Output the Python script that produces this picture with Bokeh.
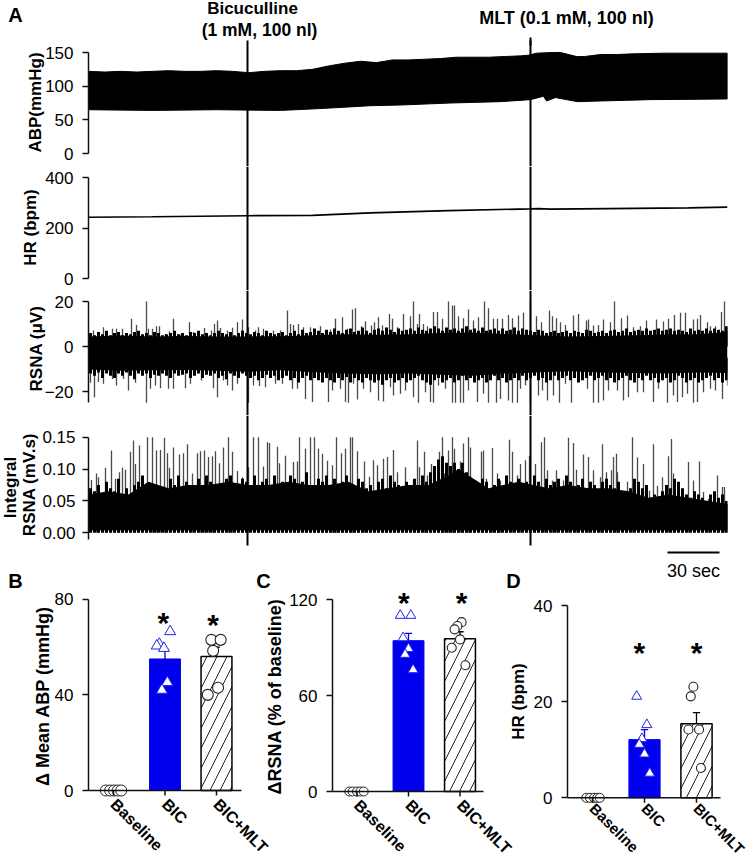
import math
from bokeh.plotting import figure
from bokeh.models import Range1d, FixedTicker
from bokeh.core.properties import value
from bokeh.embed import file_html
from bokeh.resources import INLINE

FONT = "Liberation Sans"

# ---------- panel A data (x = trace position, 52 units = 30 sec) ----------
abp_x = [0, 16, 32, 48, 64, 80, 96, 112, 128, 144, 160, 176, 192, 208, 224, 240, 256, 272, 288, 304, 320, 336, 352, 368, 384, 400, 416, 432, 440, 448, 464, 472, 488, 496, 512, 528, 544, 576, 608, 639]
abp_upper = [122, 121, 122, 121, 122, 123, 122, 122, 123, 122, 120, 122, 123, 123, 125, 130, 134, 137, 135, 139, 139, 140, 141, 143, 143, 143, 144, 145, 146, 149, 150, 150, 144, 144, 147, 147, 148, 149, 149, 149]
abp_low_x = [0, 64, 128, 192, 222, 247, 282, 312, 362, 412, 442, 455, 458, 460, 467, 489, 512, 562, 639]
abp_lower = [65, 64, 65, 64, 66, 68, 71, 72, 75, 77, 80, 85, 78, 79, 83, 77, 78, 80, 81]

hr_x = [0, 64, 159, 224, 282, 360, 442, 450, 462, 520, 600, 639]
hr_val = [244, 246, 250, 251, 261, 270, 277, 278, 276, 278, 281, 284]

rsna_env_x = [0, 32, 64, 96, 128, 160, 192, 224, 256, 288, 320, 352, 384, 416, 448, 480, 512, 544, 576, 608, 639]
rsna_top = [4.5, 4.9, 4.4, 4.7, 4.4, 4.5, 4.6, 5.0, 5.4, 5.2, 5.5, 6.0, 6.2, 5.6, 5.0, 4.5, 4.7, 5.0, 5.3, 5.4, 6.5]
rsna_bot = [-10.2, -10.8, -10.5, -10.4, -10.8, -11.2, -10.6, -11.4, -12.0, -12.3, -12.0, -12.6, -13.0, -12.0, -11.6, -11.0, -11.5, -11.8, -12.0, -11.5, -11.8]

rsna_mid_up = [6,5,6.5,5.5,7,5,6,6.5,5,6,5.5,6.5,7,5.5,6,5,6.5,6,5,5.5,
 6,7,5.5,6,5,6.5,6,7,5.5,6,5,6,7,6,5.5,6.5,5,6,7,6,
 5.5,6.5,6,5,7,6,5.5,6,6.5,5,6,7,5.5,7.5,6,6.5,8,7,6,7.5,
 6.5,8,7,6,7.5,8,6.5,7,8.5,7,6,7.5,8,7,8.5,7.5,6.5,8,7,7.5,
 8,7,8.5,7.5,7,8,9,8,7,8.5,7.5,8,7,8,9,7.5,8,7,8.5,7,
 7.5,8,7,8,7,7.5,8.5,7,8,7.5,7,6.5,7.5,7,6,6.5,7,6,6.5,7,
 6,7,6.5,6,7.5,7,6,6.5,7,6,7,7.5,6.5,7,8,6.5,7,7.5,7,8,
 7,7.5,8,7,7.5,8,7,7.5,7,6.5,8,7,7.5,7,8,7,8,7.5,7,9]
rsna_mid_dn = [-12,-13,-11.5,-14,-12,-13,-14,-12,-13,-11.5,-13,-14.5,-12,-13,-12,-14,-12.5,-13,-12,-13,
 -14,-12,-13,-12.5,-12,-14,-13,-12,-14,-12.5,-13,-12,-14,-13,-14.5,-12,-13,-14,-12,-13,
 -14,-13,-15,-14,-12.5,-14,-13,-15,-14,-13,-15,-14,-16,-14,-13,-15,-14,-15,-16,-14,
 -15,-16,-14,-15,-13.5,-16,-14,-15,-16,-14,-15,-16,-15,-17,-15,-14,-16,-15,-14,-16,
 -15,-14,-13,-15,-16,-17,-15,-14,-16,-15,-14,-16,-15,-13,-15,-14,-16,-15,-14,-16,
 -15,-13,-15,-14,-16,-15,-14,-15,-13,-15,-14,-13,-15,-14,-16,-15,-13,-15,-14,-13,
 -15,-14,-16,-15,-14,-13,-15,-14,-13,-15,-14,-16,-15,-14,-13,-15,-16,-14,-15,-13,
 -15,-14,-16,-15,-14,-16,-15,-13,-14,-16,-15,-14,-16,-15,-14,-13,-15,-14,-16,-15]

rsna_up_x = [5, 15, 24, 28, 34, 43, 48, 58, 60, 64, 68, 71, 77, 81, 85, 92, 101, 105, 110, 116, 123, 126, 129, 132, 139, 144, 149, 154, 160, 167, 170, 175, 185, 192, 199, 202, 205, 210, 215, 222, 232, 237, 242, 247, 254, 259, 264, 267, 273, 277, 283, 286, 290, 294, 301, 304, 309, 315, 322, 325, 329, 331, 335, 339, 345, 349, 354, 360, 364, 366, 370, 375, 380, 385, 390, 396, 400, 405, 409, 414, 420, 424, 430, 435, 442, 448, 453, 461, 464, 468, 472, 477, 485, 490, 498, 500, 505, 510, 515, 522, 526, 533, 539, 545, 552, 558, 568, 575, 580, 586, 592, 597, 605, 609, 612, 619, 622, 627, 633, 636, 639]
rsna_up = [7.1, 8.6, 7.9, 7.9, 7.9, 12.3, 9.6, 20, 7.9, 7.9, 9, 9, 5.6, 6.7, 12.3, 5.2, 10.8, 6.4, 6.7, 8.2, 7.1, 10, 11.6, 8.2, 7.1, 8.3, 10.8, 12, 8.6, 7.1, 8.6, 7.9, 7.1, 7.1, 16, 10, 9.6, 10, 8.6, 8.6, 9, 7.1, 7.6, 12.3, 13, 7.9, 16.5, 17, 9, 11.1, 9.3, 10.8, 13, 9.3, 14.5, 12.3, 8.6, 14.5, 13.5, 20, 10, 14.5, 10, 9, 15.3, 15.3, 12.3, 20, 18.2, 18.2, 13.5, 12.6, 16.5, 11.6, 13, 20, 17, 12.3, 12.3, 12.3, 14, 12.6, 13.8, 15, 20, 13.5, 10.8, 16, 13.5, 12.6, 10.8, 9.6, 13.8, 14.5, 11.6, 12, 9.3, 9.6, 12, 10.8, 20, 12.6, 13.8, 8.6, 9, 11.6, 12, 11.1, 12.3, 14, 15, 15, 12, 12.3, 14, 10.8, 9, 9, 15.3, 20, 9]
rsna_dn_x = [2, 6, 10, 15, 24, 28, 35, 40, 47, 58, 62, 67, 72, 80, 85, 97, 102, 113, 125, 129, 135, 139, 144, 149, 160, 165, 171, 177, 187, 194, 204, 209, 217, 224, 240, 244, 252, 257, 260, 265, 269, 275, 282, 290, 295, 302, 305, 312, 317, 325, 330, 337, 342, 345, 350, 357, 364, 367, 372, 375, 380, 389, 395, 400, 408, 412, 420, 424, 429, 432, 437, 442, 450, 454, 459, 465, 471, 477, 483, 490, 499, 505, 510, 515, 520, 529, 535, 540, 549, 555, 565, 570, 579, 585, 589, 594, 599, 605, 609, 615, 622, 627, 634, 639]
rsna_dn = [-16.1, -22.5, -15.8, -16.6, -14.4, -17.3, -14.4, -19.6, -16.1, -25, -18.8, -17.3, -18.5, -18.8, -18.8, -18.5, -16.6, -15.1, -18.5, -22.5, -15.1, -17.3, -19.6, -16.6, -25, -17.3, -17.6, -18.1, -16.6, -16.6, -18.8, -18.8, -23.3, -24.7, -24.7, -19.6, -18.8, -24.7, -25, -16.6, -23.6, -18.8, -20.3, -24, -24.4, -18.1, -21.8, -21, -19.6, -22.5, -25, -20.3, -24.7, -25, -17.3, -18.8, -25, -25, -25, -25, -19.6, -24.7, -21, -25, -25, -23.3, -24, -25, -25, -18.8, -17.3, -25, -21.8, -19.6, -24, -21.8, -25, -16.6, -25, -15.8, -18.8, -25, -25, -24, -19.6, -19.6, -24, -22.5, -20.3, -20.3, -24.7, -18.8, -25, -21.8, -24.7, -22.5, -21, -25, -24.7, -20.3, -18.8, -19.6, -23.3, -17.3]

int_env_x = [0, 20, 40, 60, 80, 100, 120, 140, 160, 180, 200, 220, 240, 260, 280, 300, 320, 340, 360, 370, 380, 400, 430, 460, 480, 500, 520, 540, 560, 580, 600, 620, 639]
int_top = [.06, .065, .06, .08, .07, .075, .075, .08, .075, .075, .08, .075, .075, .08, .065, .07, .075, .075, .09, .1, .09, .07, .08, .07, .075, .07, .07, .065, .055, .06, .055, .05, .045]
int_bot = [.004] * len(int_env_x)
int_mid = [.07,.065,.075,.06,.08,.07,.065,.085,.06,.07,.055,.075,.08,.09,.075,.07,.06,.045,.05,.07,
 .085,.075,.09,.07,.08,.065,.075,.085,.07,.09,.08,.065,.075,.07,.085,.09,.075,.07,.085,.08,
 .075,.09,.07,.08,.085,.07,.09,.075,.08,.07,.09,.085,.07,.08,.095,.075,.07,.085,.08,.09,
 .075,.085,.07,.08,.09,.075,.07,.085,.08,.07,.075,.065,.08,.085,.07,.09,.08,.075,.07,.08,
 .075,.085,.07,.09,.08,.095,.105,.115,.12,.11,.105,.11,.1,.11,.095,.085,.075,.07,.085,.08,
 .065,.075,.085,.07,.09,.08,.07,.085,.075,.08,.07,.09,.08,.07,.085,.075,.08,.085,.07,.09,
 .08,.07,.075,.085,.07,.08,.075,.065,.08,.085,.075,.07,.08,.065,.06,.07,.085,.08,.07,.075,
 .055,.06,.05,.065,.075,.07,.085,.08,.07,.06,.055,.065,.06,.055,.05,.06,.065,.055,.06,.05]
int_x = [3, 8, 10, 17, 23, 27, 31, 34, 37, 42, 45, 47, 51, 59, 64, 68, 72, 76, 79, 81, 85, 91, 95, 99, 104, 109, 112, 116, 120, 124, 127, 131, 135, 140, 144, 149, 154, 160, 165, 170, 175, 179, 181, 189, 191, 197, 205, 209, 211, 217, 222, 226, 230, 234, 239, 244, 248, 253, 257, 262, 264, 269, 276, 281, 285, 289, 295, 299, 305, 309, 317, 325, 329, 331, 336, 339, 343, 346, 351, 354, 356, 360, 364, 366, 372, 375, 380, 382, 386, 393, 395, 398, 404, 409, 412, 417, 421, 424, 429, 432, 437, 441, 447, 453, 456, 459, 464, 468, 475, 480, 485, 488, 495, 500, 505, 512, 514, 518, 523, 525, 528, 529, 539, 544, 549, 555, 561, 565, 569, 574, 580, 583, 585, 594, 600, 605, 611, 615, 620, 629, 634, 636, 639]
int_val = [.083, .093, .087, .102, .129, .085, .095, .102, .099, .127, .145, .108, .137, .15, .15, .129, .13, .149, .125, .102, .134, .123, .125, .139, .093, .125, .128, .129, .119, .12, .128, .109, .134, .15, .127, .097, .087, .103, .15, .15, .104, .142, .141, .135, .109, .121, .111, .112, .15, .132, .15, .15, .132, .124, .113, .106, .15, .125, .132, .15, .15, .128, .112, .088, .114, .106, .116, .119, .13, .095, .103, .082, .145, .103, .127, .09, .108, .087, .127, .15, .093, .129, .15, .132, .112, .14, .15, .134, .08, .127, .129, .085, .133, .093, .082, .074, .146, .127, .09, .108, .114, .12, .108, .142, .15, .098, .082, .098, .082, .149, .141, .099, .123, .119, .098, .087, .139, .095, .098, .119, .124, .095, .08, .15, .118, .108, .066, .139, .074, .087, .12, .147, .093, .061, .111, .082, .112, .064, .053, .09, .072, .072, .045]

bic_mark = 159
mlt_mark = 442
scale_bar = [579, 631]

# ---------- panels B, C, D data ----------
categories = ["Baseline", "BIC", "BIC+MLT"]
b_means = [55, 56]
b_err = [59, 60]
b_base_j = [-.15, -.065, .01, .08, .15]
b_bic_j = [.1, -.11, -.16, -.02, .045, -.06]
b_bic = [66.5, 61.2, 60.5, 59.5, 45.2, 42]
b_mlt_j = [-.1, .08, -.065, .03, -.17]
b_mlt = [63, 63, 58.4, 43, 40]
b_star_x = [.97, 1.935]
b_star_y = [70.2, 69.5]

c_means = [94.4, 95.6]
c_err = [99, 100]
c_base_j = [-.15, -.085, 0, .065, .13]
c_bic_j = [-.16, .045, -.105, 0, -.066, .09]
c_bic = [110.2, 110.2, 96.2, 89.4, 85.8, 76.2]
c_mlt_j = [.03, -.05, -.105, 0, -.16, .105]
c_mlt = [106, 103.6, 101.5, 95.2, 90, 79]
c_star_x = [.91, 2.03]
c_star_y = [118.6, 118.6]

d_means = [12.1, 15.4]
d_err = [14.2, 17.7]
d_base_j = [-.12, -.05, .03, .09, .14]
d_bic_j = [-.15, .045, -.05, -.1, 0, .1]
d_bic = [21.1, 15.2, 12.3, 11.1, 9.1, 5.1]
d_mlt_j = [-.06, -.11, -.155, .05, .085]
d_mlt = [23.1, 21.1, 14.2, 14.2, 6.2]
d_star_x = [.9, 2.0]
d_star_y = [30.3, 30.3]

# page annotations: text, x, y, size, style, angle
notes = [
    ("A", 15, 14, 20, "bold", 0), ("Bicuculline", 252, 8, 17, "bold", 0),
    ("(1 mM, 100 nl)", 259, 29, 17.5, "bold", 0), ("MLT (0.1 mM, 100 nl)", 566, 17, 18, "bold", 0),
    ("30 sec", 693, 570, 18, "normal", 0), ("B", 15, 580, 20, "bold", 0),
    ("C", 263, 580, 20, "bold", 0), ("D", 513, 580, 20, "bold", 0),
    ("ABP(mmHg)", 35, 102, 17, "bold", 90), ("HR (bpm)", 30, 227, 17, "bold", 90),
    ("RSNA (\u03bcV)", 36, 348, 17, "bold", 90), ("Integral", 10, 487, 17, "bold", 90),
    ("RSNA (mV.s)", 29, 484, 17, "bold", 90), ("\u0394 Mean ABP  (mmHg)", 42, 693, 18, "bold", 90),
    ("\u0394RSNA (% of baseline)", 274, 696, 18, "bold", 90), ("HR (bpm)", 518, 701, 17, "bold", 90),
]

BLUE = "#0000EE"
AXC = "#111111"
figs = []
rule_rows = []


def put(p, left, top):
    p.styles = {"position": "absolute", "left": f"{left}px", "top": f"{top}px"}
    figs.append(p)


def base_fig(left, top, width, height, fl, fr, ft, fb, xr, yr):
    p = figure(width=width, height=height, x_range=xr, y_range=yr, output_backend="svg",
               toolbar_location=None, min_border_left=fl - left, min_border_right=left + width - fr,
               min_border_top=ft - top, min_border_bottom=top + height - fb,
               background_fill_color=None, border_fill_color=None, outline_line_color=None)
    p.grid.visible = False
    return p


def style_y(ax, ticks, bounds, standoff=9, fmt=None):
    ax.ticker = FixedTicker(ticks=ticks)
    ax.bounds = bounds
    ax.axis_line_color = AXC
    ax.axis_line_width = 1.5
    ax.major_tick_line_color = AXC
    ax.major_tick_line_width = 1.5
    ax.major_tick_out = 6
    ax.major_tick_in = 0
    ax.minor_tick_line_color = None
    ax.major_label_text_font = FONT
    ax.major_label_text_font_size = "17px"
    ax.major_label_text_color = "black"
    ax.major_label_standoff = standoff
    if fmt:
        ax.major_label_overrides = fmt


def trace_fig(top, bottom, y0_px, k, ticks, bounds, standoff=9, fmt=None):
    """y0_px: page row of data 0; k: pixels per data unit."""
    yr = Range1d((y0_px - bottom) / k, (y0_px - top) / k)
    p = base_fig(0, top, 754, bottom - top, 88, 727, top, bottom, Range1d(0, 639), yr)
    p.xaxis.visible = False
    style_y(p.yaxis[0], ticks, bounds, standoff, fmt)
    put(p, 0, top)
    return p


def marks(p, y0_px, k, top, bottom):
    for m in (bic_mark, mlt_mark):
        p.segment(x0=[m], y0=[(y0_px - bottom) / k], x1=[m], y1=[(y0_px - top) / k], line_color="black", line_width=2)


SPIKE = "#4a4a4a"
MID_W = 3

# ABP
k = 101 / 150
pa = trace_fig(0, 166, 153, k, [0, 50, 100, 150], (0, 150))
pa.patch(x=abp_x + abp_low_x[::-1], y=abp_upper + abp_lower[::-1], fill_color="black", line_color="black")
marks(pa, 153, k, 40, 166)
pa.segment(x0=[mlt_mark], y0=[(153 - 45) / k], x1=[mlt_mark], y1=[(153 - 37) / k], line_color="black", line_width=2)

# HR
k = 101 / 400
ph = trace_fig(166, 290, 278.3, k, [0, 200, 400], (0, 400))
ph.line(x=hr_x, y=hr_val, line_color="black", line_width=1.6)
marks(ph, 278.3, k, 166, 290)

# RSNA
k = 2.25
pr = trace_fig(290, 415, 346, k, [-20, 0, 20], (-25, 20))
pr.segment(x0=rsna_up_x, y0=[0] * len(rsna_up_x), x1=rsna_up_x, y1=rsna_up, line_color=SPIKE, line_width=1.3)
pr.segment(x0=rsna_dn_x, y0=[-5] * len(rsna_dn_x), x1=rsna_dn_x, y1=rsna_dn, line_color=SPIKE, line_width=1.3)
mid_x = [2 + 4 * i for i in range(len(rsna_mid_up))]
pr.segment(x0=mid_x, y0=[0] * len(mid_x), x1=mid_x, y1=rsna_mid_up, line_color="black", line_width=MID_W)
pr.segment(x0=mid_x, y0=[-5] * len(mid_x), x1=mid_x, y1=rsna_mid_dn, line_color="black", line_width=MID_W)
pr.varea(x=rsna_env_x, y1=rsna_top, y2=rsna_bot, fill_color="black")
marks(pr, 346, k, 290, 415)

# Integral RSNA
k = 95.6 / 0.15
pi_ = trace_fig(415, 578, 532.3, k, [0, .05, .10, .15], (-0.011, .15), 7,
                {0: "0.00", 0.05: "0.05", 0.1: "0.10", 0.15: "0.15"})
pi_.segment(x0=int_x, y0=[0] * len(int_x), x1=int_x, y1=int_val, line_color=SPIKE, line_width=1.3)
mid_x = [2 + 4 * i for i in range(len(int_mid))]
pi_.segment(x0=mid_x, y0=[0] * len(mid_x), x1=mid_x, y1=int_mid, line_color="black", line_width=MID_W)
pi_.varea(x=int_env_x, y1=int_top, y2=int_bot, fill_color="black")
marks(pi_, 532.3, k, 415, 545)
pi_.segment(x0=[scale_bar[0]], y0=[(532.3 - 552) / k], x1=[scale_bar[1]], y1=[(532.3 - 552) / k], line_color="black", line_width=2)


def bar_panel(left, width, ax_x, end_x, y0_px, top_px, ymax, center0, spacing, ticks,
              base_j, bic_j, bic, mlt_j, mlt, means, err, star_x, star_y, tsize, csize, lab_size, lab_off):
    top = 578
    height = 280
    ft, fb = 590, 858
    fr = left + width
    k = (y0_px - top_px) / ymax
    xr = Range1d((ax_x - center0) / spacing, (fr - center0) / spacing)
    yr = Range1d((y0_px - fb) / k, (y0_px - ft) / k)
    p = base_fig(left, top, width, height, ax_x, fr, ft, fb, xr, yr)
    style_y(p.yaxis[0], ticks, (0, ymax))
    ax = p.xaxis[0]
    ax.fixed_location = 0
    ax.ticker = FixedTicker(ticks=[0, 1, 2])
    ax.major_label_overrides = {0: categories[0], 1: categories[1], 2: categories[2]}
    ax.major_label_orientation = -0.785
    ax.major_label_text_font = FONT
    ax.major_label_text_font_size = lab_size
    ax.major_label_text_font_style = "bold"
    ax.major_label_text_color = "black"
    ax.major_label_standoff = lab_off
    ax.axis_line_color = None
    ax.major_tick_line_color = None
    ax.major_tick_out = 5
    ax.major_tick_in = 0
    ax.minor_tick_line_color = None
    rule_rows.append((ax_x, end_x, y0_px, [center0 + i * spacing for i in range(3)]))
    p.vbar(x=[1], width=0.6, top=[means[0]], bottom=0, fill_color=BLUE, line_color=BLUE)
    p.vbar(x=[2], width=0.6, top=[means[1]], bottom=0, fill_color="white", line_color="black", line_width=1.5,
           hatch_pattern="right_diagonal_line", hatch_color="#222222", hatch_scale=20, hatch_weight=1)
    for c, m, e, col in ((1, means[0], err[0], BLUE), (2, means[1], err[1], "black")):
        p.segment(x0=[c], y0=[m], x1=[c], y1=[e], line_color=col, line_width=1.3)
        p.segment(x0=[c - .07], y0=[e], x1=[c + .07], y1=[e], line_color=col, line_width=1.3)
    p.scatter(x=base_j, y=[0] * len(base_j), marker="circle", size=csize, fill_color="white",
              line_color="#222222", line_width=1)
    p.scatter(x=[1 + j for j in bic_j], y=bic, marker="triangle", size=tsize, fill_color="white",
              line_color="#2222ee", line_width=1)
    p.scatter(x=[2 + j for j in mlt_j], y=mlt, marker="circle", size=csize, fill_color="white",
              line_color="#222222", line_width=1.1)
    p.text(x=star_x, y=star_y, text=["*", "*"], text_align="center", text_baseline="middle",
           text_font=value(FONT), text_font_size="30px", text_font_style="bold", text_color="black")
    put(p, left, top)
    return p


bar_panel(0, 300, 88, 241, 790, 598.7, 80, 113, 51.5, [0, 40, 80],
          b_base_j, b_bic_j, b_bic, b_mlt_j, b_mlt, b_means, b_err, b_star_x, b_star_y, 11, 11, "16px", 6)
bar_panel(250, 270, 332, 483, 791, 599.3, 120, 356.5, 51.5, [0, 60, 120],
          c_base_j, c_bic_j, c_bic, c_mlt_j, c_mlt, c_means, c_err, c_star_x, c_star_y, 10, 9, "16px", 6)
bar_panel(490, 264, 567, 720, 797.3, 605, 40, 592, 52, [0, 20, 40],
          d_base_j, d_bic_j, d_bic, d_mlt_j, d_mlt, d_means, d_err, d_star_x, d_star_y, 10, 9, "15px", 3)

# page-level texts and x-axis rules in one overlay whose frame is the whole page
ov = base_fig(0, 0, 754, 858, 0, 754, 0, 858, Range1d(0, 754), Range1d(858, 0))
ov.xaxis.visible = False
ov.yaxis.visible = False
for x0, x1, row, tick_x in rule_rows:
    ov.segment(x0=[x0], y0=[row], x1=[x1], y1=[row], line_color=AXC, line_width=1.6)
    ov.segment(x0=tick_x, y0=[row] * 3, x1=tick_x, y1=[row + 5] * 3, line_color=AXC, line_width=1.5)
for t, x, y, s, st, a in notes:
    ov.text(x=[x], y=[y], text=[t], text_align="center", text_baseline="middle", text_font=value(FONT),
            text_font_size=f"{s}px", text_font_style=st, text_color="black", angle=math.radians(a))
put(ov, 0, 0)

open("out.html", "w").write(file_html(figs, INLINE))
